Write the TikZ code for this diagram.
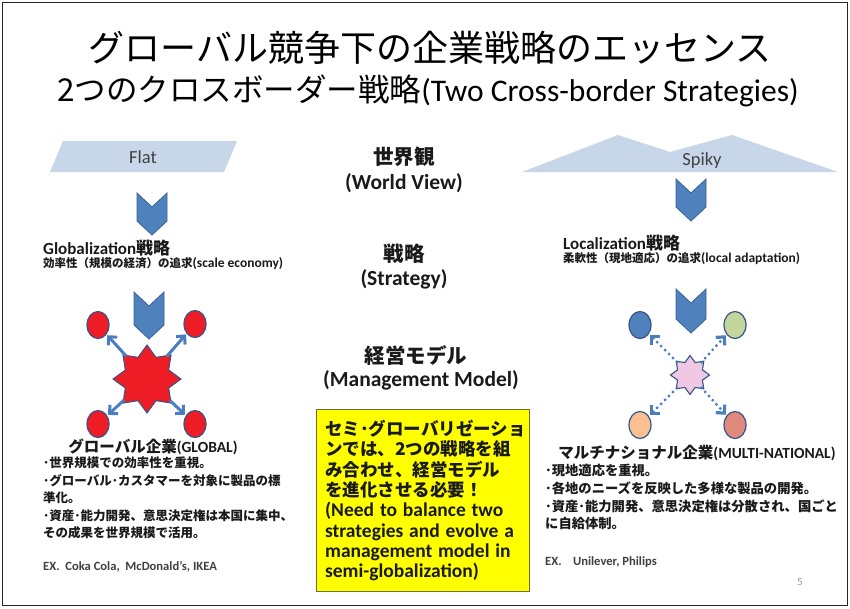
\documentclass[tikz,border=0pt]{standalone}
\usepackage{fontspec}
\setmainfont{Carlito}
\newfontfamily\jp{Noto Sans CJK JP}
\usetikzlibrary{shapes.geometric,arrows.meta}
\definecolor{lblue}{HTML}{C8D6EA}
\definecolor{chevfill}{HTML}{4F81BD}
\definecolor{chevline}{HTML}{3A6298}
\definecolor{shapeline}{HTML}{35558A}
\definecolor{myred}{HTML}{EE1C24}
\definecolor{arrblue}{HTML}{4A7EC0}
\definecolor{pinkstar}{HTML}{F0C8E4}
\definecolor{ellblue}{HTML}{4F81BD}
\definecolor{ellgreen}{HTML}{C3D69B}
\definecolor{ellpeach}{HTML}{FAC090}
\definecolor{ellsalmon}{HTML}{E0897C}
\definecolor{yellowfill}{HTML}{FFFF00}
\definecolor{yellowline}{HTML}{6E6E2E}
\definecolor{txt}{HTML}{1A1A1A}
\definecolor{greyfour}{HTML}{404040}
\newcommand{\jt}[1]{{\jp #1}}
\newcommand{\chevron}[3]{\draw[chevst] (#1-15,#2) -- (#1,#2+14) -- (#1+15,#2) -- (#1+15,#2+#3-14) -- (#1,#2+#3) -- (#1-15,#2+#3-14) -- cycle;}
\tikzset{
  chevst/.style={fill=chevfill,draw=chevline,line width=0.8pt,line join=miter},
  midlab/.style={font=\bfseries\fontsize{21.5}{24}\selectfont,text=txt,inner sep=0pt},
  midjp/.style={font=\jp\bfseries\fontsize{20.5}{23}\selectfont,text=txt,inner sep=0pt},
  strathead/.style={anchor=west,font=\bfseries\fontsize{17}{20}\selectfont,text=txt,inner sep=0pt},
  stratsub/.style={anchor=west,font=\bfseries\fontsize{13.5}{15}\selectfont,text=txt,inner sep=0pt},
  corphead/.style={font=\bfseries\fontsize{15.5}{18}\selectfont,text=txt,inner sep=0pt},
  bul/.style={anchor=west,font=\jp\bfseries\fontsize{12.5}{15}\selectfont,text=txt,inner sep=0pt},
  bulr/.style={anchor=west,font=\jp\bfseries\fontsize{13.3}{15}\selectfont,text=txt,inner sep=0pt},
  exlab/.style={anchor=west,font=\bfseries\fontsize{12.6}{15}\selectfont,text=greyfour,inner sep=0pt},
  worldlab/.style={font=\fontsize{18.5}{21}\selectfont,text=greyfour,inner sep=0pt},
  ell/.style={ellipse,draw=shapeline,line width=1.2pt,minimum width=22pt,minimum height=27pt,inner sep=0pt},
  garrow/.style={draw=arrblue,line width=3pt,-{Straight Barb[length=6pt,width=12pt]},shorten >=1pt,shorten <=-2pt},
  darrow/.style={draw=arrblue,line width=3.2pt,line cap=round,dash pattern=on 0pt off 5.6pt,-{Straight Barb[length=6pt,width=12pt]},shorten >=1pt,shorten <=-2pt},
}
\begin{document}
\begin{tikzpicture}[x=1pt,y=-1pt]
\useasboundingbox (0,0) rectangle (850,608);
\fill[white] (0,0) rectangle (850,608);
\draw[line width=1.3pt,black!85] (2.5,2.5) rectangle (847.5,605.5);

% titles
\node[font=\jp\fontsize{36}{40}\selectfont,inner sep=0pt] (t1) at (430,48) {グローバル競争下の企業戦略のエッセンス};
\node[font=\fontsize{31.5}{36}\selectfont,inner sep=0pt] (t2) at (428,91) {\jt{2つのクロスボーダー戦略}(Two Cross-border Strategies)};

% world views
\fill[lblue] (63,141) -- (237,141) -- (224,172) -- (50,172) -- cycle;
\node[worldlab] (flat) at (143,157) {Flat};
\fill[lblue] (522,172) -- (618,135) -- (670,152) -- (732,135) -- (838,172) -- cycle;
\node[worldlab] (spiky) at (702,161) {Spiky};

% chevrons
\chevron{152}{193}{42}
\chevron{149}{292}{47}
\chevron{691}{179}{42}
\chevron{691}{289}{44}

% middle labels
\node[midjp] (m1) at (404,157) {世界観};
\node[midlab] (m1e) at (404,183) {(World View)};
\node[midjp] (m2) at (404,254) {戦略};
\node[midlab] (m2e) at (404,279) {(Strategy)};
\node[midjp] (m3) at (416,355) {経営モデル};
\node[midlab] (m3e) at (421,380) {(Management Model)};

% strategies
\node[strathead] (gs1) at (43,248) {Globalization\jt{戦略}};
\node[stratsub] (gs2) at (43,264) {{\jp\fontsize{11.5}{14}\selectfont 効率性（規模の経済）の追求}(scale economy)};
\node[strathead] (ls1) at (563,243) {Localization\jt{戦略}};
\node[stratsub] (ls2) at (563,259) {{\jp\fontsize{11.5}{14}\selectfont 柔軟性（現地適応）の追求}(local adaptation)};

% global model
\node[star,star points=8,star point ratio=1.45,minimum size=68pt,inner sep=0pt,fill=myred,draw=shapeline,line width=1pt] (gstar) at (147,379) {};
\node[ell,fill=myred] (g1) at (98,325) {};
\node[ell,fill=myred] (g2) at (195,324) {};
\node[ell,fill=myred] (g3) at (98,424) {};
\node[ell,fill=myred] (g4) at (195,424) {};
\draw[garrow] (gstar) -- (g1);
\draw[garrow] (gstar) -- (g2);
\draw[garrow] (gstar) -- (g3);
\draw[garrow] (gstar) -- (g4);

% multinational model
\node[star,star points=8,star point ratio=1.45,minimum size=39pt,inner sep=0pt,fill=pinkstar,draw=shapeline,line width=1.1pt] (mstar) at (690,375) {};
\node[ell,fill=ellblue] (n1) at (640,325) {};
\node[ell,fill=ellgreen] (n2) at (735,325) {};
\node[ell,fill=ellpeach] (n3) at (640,425) {};
\node[ell,fill=ellsalmon] (n4) at (735,425) {};
\draw[darrow] (mstar) -- (n1);
\draw[darrow] (mstar) -- (n2);
\draw[darrow] (mstar) -- (n3);
\draw[darrow] (mstar) -- (n4);

% left description
\node[corphead] (gh) at (153,447) {\jt{グローバル企業}(GLOBAL)};
\node[bul] (gb1) at (43,463) {･世界規模での効率性を重視。};
\node[bul] (gb2) at (43,481) {･グローバル･カスタマーを対象に製品の標};
\node[bul] (gb3) at (43,498) {準化。};
\node[bul] (gb4) at (43,516) {･資産･能力開発、意思決定権は本国に集中、};
\node[bul] (gb5) at (43,533) {その成果を世界規模で活用。};
\node[exlab] (gex) at (43,567) {EX.\ \ Coka Cola,\ \ McDonald’s, IKEA};

% right description
\node[corphead] (mh) at (697,453) {\jt{マルチナショナル企業}(MULTI-NATIONAL)};
\node[bulr] (mb1) at (545,470) {･現地適応を重視。};
\node[bulr] (mb2) at (545,488) {･各地のニーズを反映した多様な製品の開発。};
\node[bulr] (mb3) at (545,506) {･資産･能力開発、意思決定権は分散され、国ごと};
\node[bulr] (mb4) at (545,523) {に自給体制。};
\node[exlab] (mex) at (545,562) {EX.\ \ \ \ Unilever, Philips};

% yellow box
\node[draw=yellowline,fill=yellowfill,line width=1.3pt,anchor=north west,text width=196pt,minimum height=182pt,inner sep=8.5pt,align=left,text=txt,font=\bfseries\fontsize{17.5}{20.3}\selectfont] (yb) at (316,409) {\jp セミ･グローバリゼーショ\\ンでは、2つの戦略を組\\み合わせ、経営モデル\\を進化させる必要！\\\rmfamily\fontsize{19.5}{20.3}\selectfont (Need to balance two\\strategies and evolve a\\management model in\\semi-globalization)};

% page number
\node[font=\fontsize{11}{13}\selectfont,text=black!40,inner sep=0pt] (pg) at (800,582) {5};
\end{tikzpicture}
\end{document}
